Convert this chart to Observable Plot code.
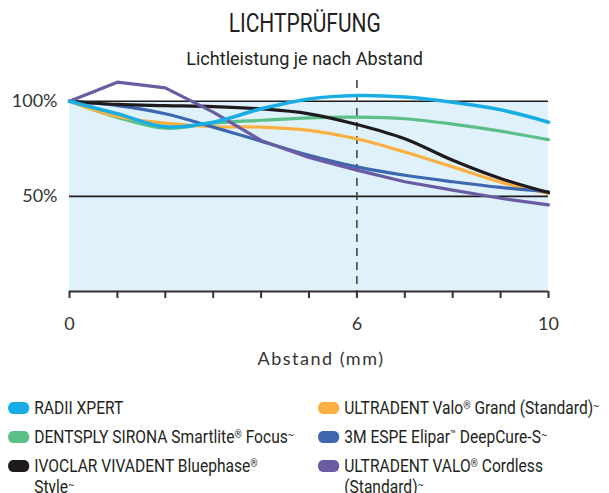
<!DOCTYPE html>
<html>
<head>
<meta charset="utf-8">
<script src="https://cdn.jsdelivr.net/npm/d3@7"></script>
<script src="https://cdn.jsdelivr.net/npm/@observablehq/plot@0.6"></script>
<style>
  html, body { margin: 0; padding: 0; background: #fff; }
  body { width: 609px; height: 493px; position: relative; overflow: hidden; color: #231f20; }
  .narrow { font-family: Roboto, "Liberation Sans", sans-serif; }
  #title { position: absolute; top: 9px; left: 0; width: 609px; text-align: center; font-size: 25px; line-height: 30px; transform: scaleX(0.84); transform-origin: 306px 0; }
  #subtitle { position: absolute; top: 47px; left: 0; width: 609px; text-align: center; font-size: 19px; line-height: 24px; transform: scaleX(0.95); transform-origin: 306px 0; }
  #chart { position: absolute; top: 74px; left: 0; }
  #xlabel { position: absolute; top: 347px; left: 0; width: 642px; text-align: center; font-family: Lato, "Open Sans", sans-serif; font-size: 18px; line-height: 22px; color: #333; letter-spacing: 1.5px; }
  #legend { position: absolute; top: 397px; left: 8px; display: grid; grid-template-columns: 378px 360px; row-gap: 8px; transform: scaleX(0.82); transform-origin: 0 0; }
  .item { display: flex; align-items: flex-start; font-size: 19px; line-height: 21px; color: #231f20; }
  .sw { flex: 0 0 auto; width: 26px; height: 12px; border-radius: 6px; margin-top: 5px; margin-right: 6px; }
  .item span.t { max-width: 322px; }
  .sm { font-size: 60%; vertical-align: 0.45em; line-height: 0; }
</style>
</head>
<body>
<div id="title" class="narrow">LICHTPRÜFUNG</div>
<div id="subtitle" class="narrow">Lichtleistung je nach Abstand</div>
<div id="chart"></div>
<div id="xlabel">Abstand (mm)</div>
<div id="legend" class="narrow"></div>
<script>
// distance in mm
const distances = [0, 1, 2, 3, 4, 5, 6, 7, 8, 9, 10];
const xTickLabels = [0, 6, 10];
const yTicks = [50, 100];
const markerDistance = 6;

const seriesNames = [
  "RADII XPERT",
  "ULTRADENT Valo® Grand (Standard)~",
  "DENTSPLY SIRONA Smartlite® Focus~",
  "3M ESPE Elipar™ DeepCure-S~",
  "IVOCLAR VIVADENT Bluephase® Style~",
  "ULTRADENT VALO® Cordless (Standard)~"
];
const seriesColors = ["#19ade4", "#fbb040", "#5bbf88", "#3d68b0", "#1f1b1c", "#6b5ba2"];

// light output in % per distance
const radiiXpert      = [100, 93.4, 86.6, 89, 96, 101.2, 103, 102.2, 99.5, 95.5, 89];
const valoGrand       = [100, 92, 88.5, 86.6, 86.4, 84.7, 80.3, 73.3, 65.5, 57.5, 51.6];
const smartliteFocus  = [100, 91.5, 85.8, 88.5, 90, 91.3, 91.6, 90.8, 88, 84.3, 79.8];
const elipar          = [100, 97.7, 93.4, 86.4, 79, 71.6, 65.5, 61.1, 57.7, 54.7, 52.4];
const bluephase       = [100, 98.3, 97.7, 97.2, 96, 93.4, 87.8, 80.3, 69, 59.4, 52];
const valoCordless    = [100, 110, 107, 94.3, 79.4, 70.4, 63.8, 57.7, 53.3, 49, 45.5];

const seriesValues = [radiiXpert, valoGrand, smartliteFocus, elipar, bluephase, valoCordless];

const rows = [];
seriesNames.forEach((name, i) => {
  seriesValues[i].forEach((v, j) => rows.push({series: name, x: distances[j], y: v}));
});
const drawOrder = [2, 1, 3, 4, 5, 0];

const marks = [
  Plot.areaY(distances, {x: d => d, y1: 0, y2: 100, fill: "#dff1fb"}),
  Plot.ruleY(yTicks, {stroke: "#1f1b1c", strokeWidth: 1.6}),
  Plot.ruleX([markerDistance], {stroke: "#444", strokeWidth: 1.6, strokeDasharray: "8,6"}),
  Plot.ruleY([0], {stroke: "#333", strokeWidth: 2.2}),
  Plot.axisX({ticks: distances, tickSize: 7, tickPadding: 19, tickFormat: d => xTickLabels.includes(d) ? String(d) : "", fontSize: 18, fontFamily: "Lato, 'Open Sans', sans-serif", stroke: "#333", strokeWidth: 2, label: null, color: "#333"}),
  Plot.axisY({ticks: yTicks, tickSize: 0, tickPadding: 12, tickFormat: d => d + "%", fontSize: 18, fontFamily: "Lato, 'Open Sans', sans-serif", label: null, color: "#333", style: {letterSpacing: "0.6px"}})
];
drawOrder.forEach(i => {
  const name = seriesNames[i];
  marks.push(Plot.line(rows.filter(r => r.series === name), {
    x: "x", y: "y", stroke: seriesColors[i], strokeWidth: i === 0 ? 3.6 : 3.2,
    curve: i === 5 ? "linear" : "catmull-rom", strokeLinejoin: "round", strokeLinecap: "round"
  }));
});

const chart = Plot.plot({
  width: 609,
  height: 266,
  marginLeft: 69,
  marginRight: 61,
  marginTop: 6,
  marginBottom: 49,
  x: {domain: [0, 10]},
  y: {domain: [0, 110.9]},
  style: {background: "transparent", overflow: "visible"},
  marks
});
document.getElementById("chart").appendChild(chart);

// legend
const legend = document.getElementById("legend");
const fmt = s => s.replace(/[®™]/g, m => `<span class="sm">${m}</span>`).replace(/~$/, '<span class="sm">~</span>');
seriesNames.forEach((name, i) => {
  const div = document.createElement("div");
  div.className = "item";
  div.innerHTML = `<div class="sw" style="background:${seriesColors[i]}"></div><span class="t">${fmt(name)}</span>`;
  legend.appendChild(div);
});
</script>
</body>
</html>
